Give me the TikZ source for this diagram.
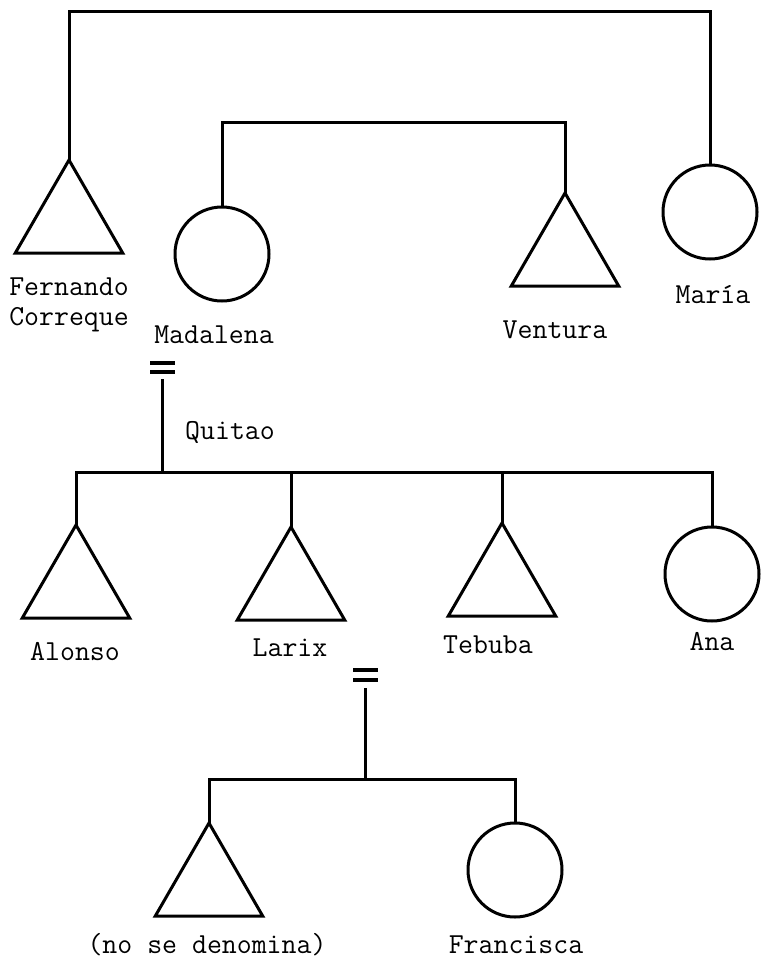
\documentclass[tikz,border=0pt]{standalone}
\usetikzlibrary{shapes.geometric}
\begin{document}
\begin{tikzpicture}[x=1pt,y=-1pt,
  line width=3pt,
  male/.style={draw,regular polygon,regular polygon sides=3,minimum size=124pt,inner sep=0pt,outer sep=0pt},
  female/.style={draw,circle,minimum size=94pt,inner sep=0pt,outer sep=0pt},
  lbl/.style={font=\ttfamily\fontsize{29}{30}\selectfont,inner sep=0pt,align=center},
  link/.style={line width=3pt,line join=miter},
  marr/.style={line width=3.5pt}]
\useasboundingbox (0,0) rectangle (760,963);
% generation 1
\node[male] (fern) at (69,222) {};
\node[female] (mada) at (222,254) {};
\node[male] (vent) at (565,255) {};
\node[female] (maria) at (710,212) {};
\node[lbl] (lfern) at (69,305) {Fernando\\Correque};
\node[lbl] (lmada) at (214,335) {Madalena};
\node[lbl] (lvent) at (555,330) {Ventura};
\node[lbl] (lmaria) at (713,295) {María};
\coordinate (t1) at (69,12);
\coordinate (t2) at (710,12);
\draw[link] (fern.north) -- (t1) -- (t2) -- (maria.north);
\coordinate (m1) at (222,123);
\coordinate (m2) at (565,123);
\draw[link] (mada.north) -- (m1) -- (m2) -- (vent.north);
% marriage Madalena = Quitao
\coordinate (q1) at (150,363);
\coordinate (q2) at (175,363);
\coordinate (q3) at (150,372);
\coordinate (q4) at (175,372);
\draw[marr] (q1) -- (q2);
\draw[marr] (q3) -- (q4);
\coordinate (qtop) at (162,379);
\coordinate (qbot) at (162,472);
\node[lbl] (lquit) at (230,432) {Quitao};
\draw[link] (qtop) -- (qbot);
% generation 2
\node[male] (alon) at (76,587) {};
\node[male] (larix) at (291,589) {};
\node[male] (tebu) at (502,585) {};
\node[female] (ana) at (712,574) {};
\node[lbl] (lalon) at (75,652) {Alonso};
\node[lbl] (llarix) at (290,648) {Larix};
\node[lbl] (ltebu) at (488,645) {Tebuba};
\node[lbl] (lana) at (712,642) {Ana};
\coordinate (s1) at (76,472);
\coordinate (s2) at (712,472);
\draw[link] (alon.north) -- (s1) -- (s2) -- (ana.north);
\draw[link] (larix.north) -- (larix.north |- s1);
\draw[link] (tebu.north) -- (tebu.north |- s1);
% marriage Larix =
\coordinate (r1) at (353,670);
\coordinate (r2) at (378,670);
\coordinate (r3) at (353,680);
\coordinate (r4) at (378,680);
\draw[marr] (r1) -- (r2);
\draw[marr] (r3) -- (r4);
\coordinate (rtop) at (365,688);
\coordinate (rbot) at (365,779);
\draw[link] (rtop) -- (rbot);
% generation 3
\node[male] (nosd) at (209,885) {};
\node[female] (fran) at (515,870) {};
\node[lbl] (lnosd) at (207,945) {(no se denomina)};
\node[lbl] (lfran) at (516,945) {Francisca};
\coordinate (c1) at (209,779);
\coordinate (c2) at (515,779);
\draw[link] (nosd.north) -- (c1) -- (c2) -- (fran.north);
\end{tikzpicture}
\end{document}
